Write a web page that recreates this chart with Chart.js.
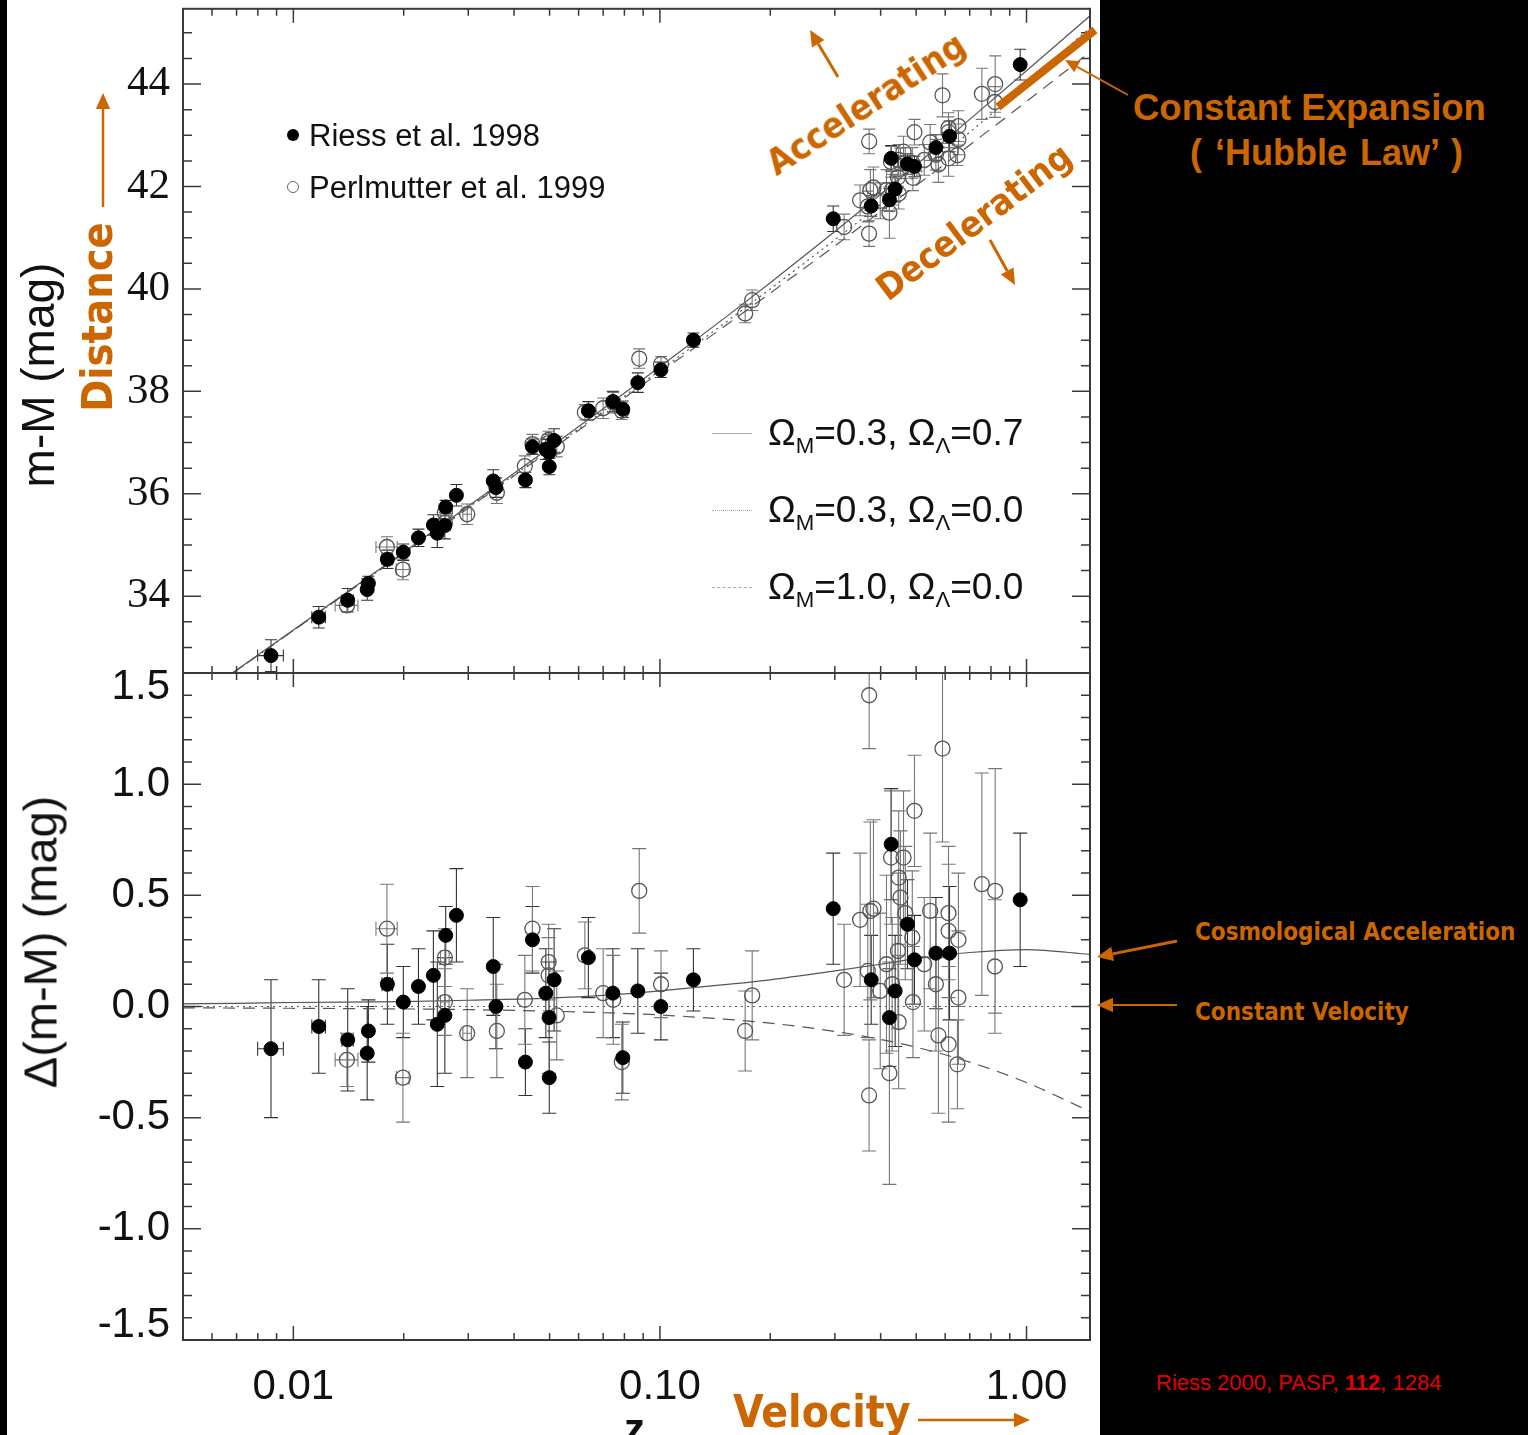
<!DOCTYPE html>
<html>
<head>
<meta charset="utf-8">
<title>Hubble diagram of type Ia supernovae</title>
<script src="https://cdn.jsdelivr.net/npm/chart.js@4.4.1/dist/chart.umd.min.js"></script>
<style>
  html, body { margin: 0; padding: 0; background: #000; width: 1528px; height: 1435px; overflow: hidden; }
  #panel { position: absolute; left: 7px; top: 0; width: 1093px; height: 1435px; background: #fff; }
  canvas { position: absolute; left: 0; }
  #topChart { top: 0; }
  #botChart { top: 660px; }
  #arrows { position: absolute; left: 0; top: 0; }
  .t { position: absolute; white-space: nowrap; line-height: 1; }
  .ax { font-family: 'Liberation Sans', Arial, sans-serif; color: #111; }
  .or { font-family: 'DejaVu Sans Condensed', 'DejaVu Sans', sans-serif; font-weight: bold; color: #cc6600; }
  .c { transform: translate(-50%, -50%) rotate(var(--a)); }
  .t sub { font-size: 0.6em; vertical-align: -0.35em; line-height: 0; }
  .dot { position: absolute; width: 12px; height: 12px; border-radius: 50%; box-sizing: border-box; }
  .sample { position: absolute; width: 40px; height: 0; }
</style>
</head>
<body>
<div id="panel"></div>
<canvas id="topChart" width="1100" height="690"></canvas>
<canvas id="botChart" width="1100" height="775"></canvas>

<!-- axis titles -->
<div class="t ax c" style="left:38px; top:375px; font-size:46px; --a:-90deg;">m-M (mag)</div>
<div class="t ax c" style="left:40px; top:942px; font-size:47px; --a:-90deg;">Δ(m-M) (mag)</div>
<div class="t ax" style="left:624px; top:1408px; font-size:42px; font-weight:bold;">z</div>

<!-- data legend -->
<div class="dot" style="left:287px; top:129px; background:#000;"></div>
<div class="t ax" style="left:309px; top:120px; font-size:31px;">Riess et al. 1998</div>
<div class="dot" style="left:287px; top:181px; border:1.3px solid #666;"></div>
<div class="t ax" style="left:309px; top:172px; font-size:31px;">Perlmutter et al. 1999</div>

<!-- model legend -->
<div class="sample" style="left:712px; top:433px; border-top:1.5px solid #aaa;"></div>
<div class="t ax" style="left:768px; top:414px; font-size:37px;">Ω<sub>M</sub>=0.3, Ω<sub>Λ</sub>=0.7</div>
<div class="sample" style="left:712px; top:510px; border-top:1.5px dotted #aaa;"></div>
<div class="t ax" style="left:768px; top:491px; font-size:37px;">Ω<sub>M</sub>=0.3, Ω<sub>Λ</sub>=0.0</div>
<div class="sample" style="left:712px; top:587px; border-top:1.5px dashed #aaa;"></div>
<div class="t ax" style="left:768px; top:568px; font-size:37px;">Ω<sub>M</sub>=1.0, Ω<sub>Λ</sub>=0.0</div>

<!-- annotations -->
<div class="t or c" style="left:866px; top:104px; font-size:36px; --a:-33deg;">Accelerating</div>
<div class="t or c" style="left:974px; top:222px; font-size:36px; --a:-37deg;">Decelerating</div>
<div class="t or c" style="left:97px; top:317px; font-size:43px; --a:-90deg;">Distance</div>
<div class="t or" style="left:733px; top:1390px; font-size:44px;">Velocity</div>
<div class="t or" style="left:1195px; top:920px; font-size:24px;">Cosmological Acceleration</div>
<div class="t or" style="left:1195px; top:1000px; font-size:24px;">Constant Velocity</div>
<div class="t" style="left:1133px; top:90px; font-size:36.5px; font-weight:bold; color:#cc6600; font-family:'Liberation Sans', Arial, sans-serif;">Constant Expansion</div>
<div class="t" style="left:1190px; top:135px; font-size:36px; font-weight:bold; color:#cc6600; font-family:'Liberation Sans', Arial, sans-serif; word-spacing:3px;">( ‘Hubble Law’ )</div>
<div class="t" style="left:1156px; top:1372px; font-size:22px; color:#e00000; font-family:'Liberation Sans', Arial, sans-serif;">Riess 2000, PASP, <b>112</b>, 1284</div>

<svg id="arrows" width="1528" height="1435"></svg>

<script>
// akse-ticks (z er logaritmisk)
const xTickValues = [0.01, 0.1, 1];
const xTickLabels = ['0.01', '0.10', '1.00'];
const xMinorTicks = [0.005, 0.006, 0.007, 0.008, 0.009, 0.02, 0.03, 0.04, 0.05, 0.06, 0.07, 0.08, 0.09,
  0.2, 0.3, 0.4, 0.5, 0.6, 0.7, 0.8, 0.9];
const muTickValues = [34, 36, 38, 40, 42, 44];
const muTickLabels = ['34', '36', '38', '40', '42', '44'];
const muMinorTicks = [33, 33.5, 34.5, 35, 35.5, 36.5, 37, 37.5, 38.5, 39, 39.5, 40.5, 41, 41.5, 42.5, 43, 43.5, 44.5, 45];
const deltaTickValues = [-1.5, -1, -0.5, 0, 0.5, 1, 1.5];
// yderste labels flyttes en halv linje ind i panelet (tom linje foran/bagved)
const deltaTickLabels = [['-1.5', ''], '-1.0', '-0.5', '0.0', '0.5', '1.0', ['', '1.5']];
const deltaMinorTicks = [-1.4, -1.3, -1.2, -1.1, -0.9, -0.8, -0.7, -0.6, -0.4, -0.3, -0.2, -0.1,
  0.1, 0.2, 0.3, 0.4, 0.6, 0.7, 0.8, 0.9, 1.1, 1.2, 1.3, 1.4];

// Riess et al. 1998 (fyldte punkter)
const riessZ = [0.00869, 0.01173, 0.01407, 0.01602, 0.0159, 0.01805, 0.01995, 0.02194, 0.0241, 0.02604,
  0.0247, 0.0259, 0.02785, 0.0351, 0.0357, 0.0449, 0.04295, 0.04883, 0.04985, 0.05144,
  0.0499, 0.0638, 0.0744, 0.0792, 0.08703, 0.1006, 0.1234, 0.297, 0.377, 0.4228,
  0.4274, 0.4382, 0.4735, 0.4947, 0.566, 0.6166, 0.961];
const riessMu = [32.84, 33.59, 33.92, 34.25, 34.13, 34.72, 34.86, 35.14, 35.39, 35.74,
  35.23, 35.38, 35.97, 36.25, 36.12, 36.92, 36.27, 36.87, 36.81, 37.04,
  36.53, 37.62, 37.80, 37.65, 38.17, 38.42, 39.00, 41.37, 41.62, 41.74,
  42.55, 41.95, 42.44, 42.39, 42.76, 42.98, 44.38];
const riessDelta = [-0.19, -0.09, -0.15, -0.11, -0.21, 0.10, 0.02, 0.09, 0.14, 0.32,
  -0.08, -0.04, 0.41, 0.18, 0.00, 0.30, -0.25, 0.06, -0.05, 0.12,
  -0.32, 0.22, 0.06, -0.23, 0.07, 0.00, 0.12, 0.44, 0.12, -0.05,
  0.73, 0.07, 0.37, 0.21, 0.24, 0.24, 0.48];
const riessErr = [0.31, 0.21, 0.23, 0.14, 0.21, 0.18, 0.16, 0.17, 0.20, 0.13,
  0.28, 0.26, 0.21, 0.22, 0.19, 0.15, 0.15, 0.20, 0.25, 0.23,
  0.16, 0.18, 0.20, 0.16, 0.19, 0.15, 0.14, 0.25, 0.20, 0.22,
  0.25, 0.25, 0.20, 0.20, 0.25, 0.30, 0.30];
const riessZErr = [0.0007, 0.0005, 0.0005, 0, 0, 0.0006, 0, 0, 0, 0,
  0, 0, 0, 0, 0, 0, 0, 0, 0, 0,
  0, 0, 0, 0, 0, 0, 0, 0, 0, 0,
  0, 0, 0, 0, 0, 0, 0];

// Perlmutter et al. 1999 (aabne punkter)
const perlZ = [0.018, 0.0140, 0.0199, 0.0259, 0.0259, 0.0298, 0.0359, 0.0428, 0.0449, 0.0497,
  0.0497, 0.0523, 0.0624, 0.0700, 0.0746, 0.0787, 0.0878, 0.1007, 0.1708, 0.1785,
  0.318, 0.3516, 0.369, 0.372, 0.3722, 0.375, 0.3824, 0.399, 0.415, 0.4227,
  0.427, 0.43, 0.446, 0.448, 0.448, 0.453, 0.4618, 0.467, 0.488, 0.4947,
  0.49, 0.526, 0.546, 0.566, 0.575, 0.590, 0.6126, 0.613, 0.613, 0.652,
  0.652, 0.648, 0.7555, 0.8214, 0.82];
const perlMu = [34.96, 33.82, 34.52, 35.63, 35.43, 35.60, 36.02, 36.54, 36.97, 37.05,
  36.99, 36.92, 37.59, 37.67, 37.78, 37.62, 38.64, 38.53, 39.52, 39.78,
  41.21, 41.73, 41.61, 41.08, 42.88, 41.93, 41.98, 41.72, 41.93, 41.49,
  42.48, 41.94, 42.18, 42.52, 41.86, 42.45, 42.68, 42.46, 42.46, 43.06,
  42.17, 42.52, 42.86, 42.62, 42.43, 43.78, 43.14, 43.06, 42.55, 43.18,
  42.92, 42.61, 43.81, 44.00, 43.65];
const perlDelta = [0.35, -0.24, -0.32, 0.22, 0.02, -0.12, -0.11, 0.03, 0.35, 0.20,
  0.14, -0.04, 0.23, 0.06, 0.03, -0.25, 0.52, 0.10, -0.11, 0.05,
  0.12, 0.39, 0.16, -0.40, 1.40, 0.43, 0.44, 0.07, 0.19, -0.30,
  0.67, 0.10, 0.25, 0.58, -0.07, 0.49, 0.67, 0.42, 0.31, 0.88,
  0.02, 0.19, 0.43, 0.10, -0.13, 1.16, 0.42, 0.34, -0.17, 0.30,
  0.04, -0.26, 0.55, 0.52, 0.18];
const perlErr = [0.20, 0.12, 0.20, 0.13, 0.15, 0.20, 0.21, 0.20, 0.19, 0.17,
  0.17, 0.20, 0.15, 0.20, 0.20, 0.17, 0.19, 0.15, 0.18, 0.20,
  0.25, 0.30, 0.30, 0.25, 0.24, 0.40, 0.40, 0.35, 0.40, 0.50,
  0.30, 0.30, 0.35, 0.30, 0.30, 0.30, 0.30, 0.30, 0.30, 0.25,
  0.25, 0.30, 0.35, 0.30, 0.35, 0.42, 0.30, 0.30, 0.35, 0.30,
  0.30, 0.20, 0.50, 0.55, 0.30];
const perlZErr = [0.0012, 0.0010, 0.0008, 0.0007, 0.0007, 0.0008, 0, 0, 0, 0,
  0, 0, 0, 0, 0, 0, 0, 0, 0, 0,
  0, 0, 0, 0, 0, 0, 0, 0, 0, 0,
  0, 0, 0, 0, 0, 0, 0, 0, 0, 0,
  0, 0, 0, 0, 0, 0, 0, 0, 0, 0,
  0, 0, 0, 0, 0];

// modelkurver aflaest fra figuren
const curveZ = [0.005, 0.007, 0.01, 0.02, 0.03, 0.05, 0.07, 0.1, 0.15, 0.2, 0.3, 0.4, 0.5, 0.7, 1.0, 1.5];
const muLambda = [31.82, 32.56, 33.34, 34.86, 35.76, 36.90, 37.66, 38.48, 39.43, 40.12, 41.12, 41.85, 42.42, 43.31, 44.26, 45.35];
const muOpen = [31.82, 32.55, 33.33, 34.84, 35.73, 36.86, 37.61, 38.41, 39.33, 40.00, 40.96, 41.65, 42.21, 43.06, 44.01, 45.12];
const muEdS = [31.82, 32.55, 33.33, 34.84, 35.72, 36.84, 37.58, 38.37, 39.27, 39.92, 40.84, 41.51, 42.02, 42.81, 43.66, 44.64];
const deltaLambda = [0.012, 0.014, 0.018, 0.022, 0.028, 0.038, 0.050, 0.070, 0.098, 0.12, 0.16, 0.19, 0.215, 0.243, 0.256, 0.234];
const deltaOpen = [0, 0, 0, 0, 0, 0, 0, 0, 0, 0, 0, 0, 0, 0, 0, 0];
const deltaEdS = [-0.006, -0.007, -0.008, -0.011, -0.014, -0.021, -0.028, -0.038, -0.057, -0.075, -0.112, -0.148, -0.183, -0.25, -0.342, -0.475];

const modelNames = ['ΩM=0.3, ΩΛ=0.7', 'ΩM=0.3, ΩΛ=0.0', 'ΩM=1.0, ΩΛ=0.0'];

// parrer x- og y-lister til punkter
function points(xs, ys) {
  return xs.map((v, i) => ({ x: v, y: ys[i] }));
}

// fejlstreger tegnes under punkterne
const errorBars = {
  id: 'errorBars',
  beforeDatasetsDraw(chart) {
    const { ctx, chartArea: a } = chart;
    const x = chart.scales.x, y = chart.scales.y;
    ctx.save();
    ctx.beginPath();
    ctx.rect(a.left, a.top, a.right - a.left, a.bottom - a.top);
    ctx.clip();
    chart.data.datasets.forEach(ds => {
      if (!ds.errY) return;
      ctx.strokeStyle = ds.errColor;
      ctx.lineWidth = 1.1;
      ctx.beginPath();
      ds.data.forEach((p, i) => {
        const px = x.getPixelForValue(p.x);
        const py = y.getPixelForValue(p.y);
        const lo = y.getPixelForValue(p.y - ds.errY[i]);
        const hi = y.getPixelForValue(p.y + ds.errY[i]);
        ctx.moveTo(px, lo); ctx.lineTo(px, hi);
        ctx.moveTo(px - ds.cap, lo); ctx.lineTo(px + ds.cap, lo);
        ctx.moveTo(px - ds.cap, hi); ctx.lineTo(px + ds.cap, hi);
        const ex = ds.errX ? ds.errX[i] : 0;
        if (ex) {
          const l = x.getPixelForValue(p.x - ex), r = x.getPixelForValue(p.x + ex);
          ctx.moveTo(l, py); ctx.lineTo(r, py);
          ctx.moveTo(l, py - ds.cap); ctx.lineTo(l, py + ds.cap);
          ctx.moveTo(r, py - ds.cap); ctx.lineTo(r, py + ds.cap);
        }
      });
      ctx.stroke();
    });
    ctx.restore();
  }
};

// ramme med indadvendte ticks paa alle fire sider
const frameTicks = {
  id: 'frameTicks',
  afterDatasetsDraw(chart, args, o) {
    const { ctx, chartArea: a } = chart;
    const x = chart.scales.x, y = chart.scales.y;
    ctx.save();
    ctx.strokeStyle = '#3a3a3a';
    ctx.lineWidth = 1.5;
    ctx.beginPath();
    const vt = (v, len) => {
      const px = x.getPixelForValue(v);
      ctx.moveTo(px, a.top); ctx.lineTo(px, a.top + len);
      ctx.moveTo(px, a.bottom); ctx.lineTo(px, a.bottom - len);
    };
    const ht = (v, len) => {
      const py = y.getPixelForValue(v);
      ctx.moveTo(a.left, py); ctx.lineTo(a.left + len, py);
      ctx.moveTo(a.right, py); ctx.lineTo(a.right - len, py);
    };
    o.xMajor.forEach(v => vt(v, 14));
    o.xMinor.forEach(v => vt(v, 7));
    o.yMajor.forEach(v => ht(v, 18));
    o.yMinor.forEach(v => ht(v, 9));
    ctx.stroke();
    ctx.lineWidth = 2;
    ctx.strokeRect(a.left, a.top, a.right - a.left, a.bottom - a.top);
    ctx.restore();
  }
};

function dataSets(riessY, perlY, curves, cap) {
  return [
    {
      label: 'Riess et al. 1998',
      data: points(riessZ, riessY),
      errY: riessErr, errX: riessZErr, errColor: '#333', cap: cap,
      pointRadius: 7, backgroundColor: '#000', borderColor: '#000', borderWidth: 1,
      order: 0
    },
    {
      label: 'Perlmutter et al. 1999',
      data: points(perlZ, perlY),
      errY: perlErr, errX: perlZErr, errColor: '#777', cap: cap,
      pointRadius: 7.5, backgroundColor: 'rgba(0,0,0,0)', borderColor: '#555', borderWidth: 1.3,
      order: 1
    },
    {
      label: modelNames[0], data: points(curveZ, curves[0]), showLine: true,
      pointRadius: 0, borderColor: '#555', borderWidth: 1.2, cubicInterpolationMode: 'monotone', order: 5
    },
    {
      label: modelNames[1], data: points(curveZ, curves[1]), showLine: true,
      pointRadius: 0, borderColor: '#555', borderWidth: 1.2, borderDash: [2, 4], cubicInterpolationMode: 'monotone', order: 6
    },
    {
      label: modelNames[2], data: points(curveZ, curves[2]), showLine: true,
      pointRadius: 0, borderColor: '#555', borderWidth: 1.2, borderDash: [12, 8], cubicInterpolationMode: 'monotone', order: 7
    }
  ];
}

// y-aksen faar fast bredde og ingen ekstra luft til labels i enderne
function fitY(s) {
  s.width = 183;
  s.paddingTop = 0;
  s.paddingBottom = 0;
}

// OEVERSTE PANEL - afstandsmodul
new Chart(document.getElementById('topChart'), {
  type: 'scatter',
  data: { datasets: dataSets(riessMu, perlMu, [muLambda, muOpen, muEdS], 6) },
  options: {
    responsive: false, animation: false, events: [],
    layout: { padding: { left: 0, right: 10, top: 8, bottom: 17 } },
    plugins: {
      legend: { display: false }, tooltip: { enabled: false },
      frameTicks: { xMajor: xTickValues, xMinor: xMinorTicks, yMajor: muTickValues, yMinor: muMinorTicks }
    },
    scales: {
      x: { type: 'logarithmic', min: 0.005, max: 1.49, display: false },
      y: {
        min: 32.5, max: 45.47,
        afterBuildTicks: s => { s.ticks = muTickValues.map(v => ({ value: v })); },
        afterFit: fitY,
        grid: { display: false, drawTicks: false },
        border: { display: false },
        ticks: {
          padding: 13, color: '#111',
          font: { family: 'Liberation Serif', size: 43 },
          callback: (v, i) => muTickLabels[i]
        }
      }
    }
  },
  plugins: [errorBars, frameTicks]
});

// NEDERSTE PANEL - residualer
new Chart(document.getElementById('botChart'), {
  type: 'scatter',
  data: { datasets: dataSets(riessDelta, perlDelta, [deltaLambda, deltaOpen, deltaEdS], 7) },
  options: {
    responsive: false, animation: false, events: [],
    layout: { padding: { left: 0, right: 10, top: 13, bottom: 0 } },
    plugins: {
      legend: { display: false }, tooltip: { enabled: false },
      frameTicks: { xMajor: xTickValues, xMinor: xMinorTicks, yMajor: deltaTickValues, yMinor: deltaMinorTicks }
    },
    scales: {
      x: {
        type: 'logarithmic', min: 0.005, max: 1.49,
        afterBuildTicks: s => { s.ticks = xTickValues.map(v => ({ value: v })); },
        afterFit: s => { s.height = 95; s.paddingLeft = 0; s.paddingRight = 0; },
        grid: { display: false, drawTicks: false },
        border: { display: false },
        ticks: {
          autoSkip: false, maxRotation: 0, padding: 22, color: '#111',
          font: { family: 'Liberation Sans', size: 42 },
          callback: (v, i) => xTickLabels[i]
        }
      },
      y: {
        min: -1.5, max: 1.5,
        afterBuildTicks: s => { s.ticks = deltaTickValues.map(v => ({ value: v })); },
        afterFit: fitY,
        grid: { display: false, drawTicks: false },
        border: { display: false },
        ticks: {
          padding: 13, color: '#111',
          font: { family: 'Liberation Sans', size: 42, lineHeight: 0.7 },
          callback: (v, i) => deltaTickLabels[i]
        }
      }
    }
  },
  plugins: [errorBars, frameTicks]
});

// orange pile og streg ovenpaa figuren
const svg = document.getElementById('arrows');
const NS = 'http://www.w3.org/2000/svg';
const orange = '#cc6600';
function seg(x1, y1, x2, y2, w) {
  const l = document.createElementNS(NS, 'line');
  l.setAttribute('x1', x1); l.setAttribute('y1', y1);
  l.setAttribute('x2', x2); l.setAttribute('y2', y2);
  l.setAttribute('stroke', orange); l.setAttribute('stroke-width', w);
  svg.appendChild(l);
}
function arrow(x1, y1, x2, y2, w, head) {
  const ang = Math.atan2(y2 - y1, x2 - x1);
  const bx = x2 - head * Math.cos(ang), by = y2 - head * Math.sin(ang);
  seg(x1, y1, bx, by, w);
  const hw = head * 0.45;
  const p = document.createElementNS(NS, 'polygon');
  p.setAttribute('points', [
    [x2, y2],
    [bx + hw * Math.sin(ang), by - hw * Math.cos(ang)],
    [bx - hw * Math.sin(ang), by + hw * Math.cos(ang)]
  ].map(q => q.join(',')).join(' '));
  p.setAttribute('fill', orange);
  svg.appendChild(p);
}
arrow(103, 207, 103, 93, 2.5, 16);
arrow(918, 1420, 1030, 1420, 2.5, 16);
arrow(838, 77, 810, 30, 3, 16);
arrow(990, 240, 1015, 285, 3, 16);
seg(998, 107, 1095, 30, 8);
arrow(1128, 95, 1065, 60, 2, 14);
arrow(1177, 941, 1097, 957, 3, 16);
arrow(1177, 1005, 1097, 1005, 2, 16);
</script>
</body>
</html>
